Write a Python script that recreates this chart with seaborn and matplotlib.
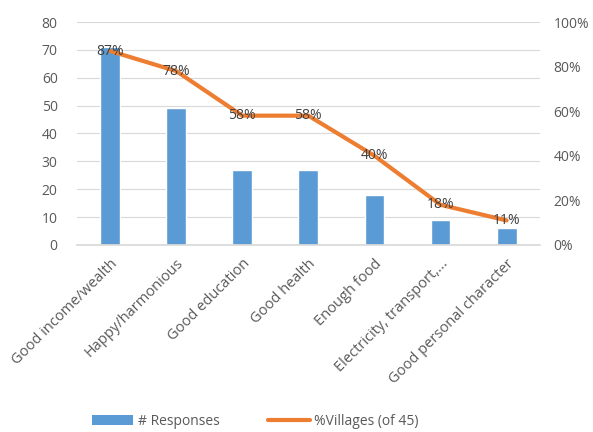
import matplotlib
matplotlib.use("Agg")
import matplotlib.pyplot as plt
import seaborn as sns
import numpy as np
import pandas as pd
from matplotlib.patches import Patch
from matplotlib.lines import Line2D

categories = ["Good income/wealth", "Happy/harmonious", "Good education", "Good health",
              "Enough food", "Electricity, transport,...", "Good personal character"]
responses = [71, 49, 27, 27, 18, 9, 6]
villages_pct = [0.87, 0.78, 0.58, 0.58, 0.40, 0.18, 0.11]
pct_labels = ["87%", "78%", "58%", "58%", "40%", "18%", "11%"]

sns.set_theme(style="white")
plt.rcParams['font.family'] = ['Open Sans', 'DejaVu Sans']

bar_color = "#5b9bd5"
line_color = "#ed7d31"
txt = "#595959"

fig = plt.figure(figsize=(5.93, 4.32), dpi=100)
ax = fig.add_axes([0.13, 0.433, 0.78, 0.516])

df = pd.DataFrame({"cat": categories, "resp": responses, "pct": villages_pct,
                   "pos": np.arange(len(categories))})

sns.barplot(data=df, x="cat", y="resp", color=bar_color, width=0.3, ax=ax, saturation=1)
ax.set_ylim(0, 80)
ax.set_yticks(range(0, 81, 10))
ax.set_xlim(-0.5, len(categories) - 0.5)
ax.yaxis.grid(True, color="#d9d9d9", linewidth=0.8)
ax.set_axisbelow(True)
for s in ["top", "right", "left"]:
    ax.spines[s].set_visible(False)
ax.spines["bottom"].set_color("#d9d9d9")
ax.set_xlabel("")
ax.set_ylabel("")
ax.tick_params(axis="y", colors=txt, labelsize=10, length=0, pad=14)
ax.tick_params(axis="x", colors=txt, length=0, pad=8)
ax.set_xticks(range(len(categories)))
ax.set_xticklabels(categories, rotation=45, ha="right", rotation_mode="anchor",
                   fontsize=10.5, color=txt)

ax2 = ax.twinx()
sns.lineplot(data=df, x="pos", y="pct", color=line_color, linewidth=3, ax=ax2)
ax2.set_ylim(0, 1.0)
ax2.set_yticks(np.arange(0, 1.01, 0.2))
ax2.set_yticklabels([f"{int(round(v*100))}%" for v in np.arange(0, 1.01, 0.2)])
ax2.tick_params(axis="y", colors=txt, labelsize=10, length=0, pad=10)
for s in ["top", "right", "left", "bottom"]:
    ax2.spines[s].set_visible(False)
ax2.set_ylabel("")
ax2.set_xlabel("")
ax2.set_xlim(-0.5, len(categories) - 0.5)
for i, (v, lab) in enumerate(zip(villages_pct, pct_labels)):
    ax2.text(i, v, lab, ha="center", va="center", fontsize=10, color="#404040")

handles = [Patch(facecolor=bar_color, edgecolor="none"),
           Line2D([0], [0], color=line_color, linewidth=3)]
fig.legend(handles, ["# Responses", "%Villages (of 45)"], loc="lower center",
           bbox_to_anchor=(0.43, -0.022), ncol=2, frameon=False, fontsize=10,
           labelcolor=txt, handlelength=3.0, columnspacing=3.5, handletextpad=0.3)

fig.savefig("out.png", dpi=100)
